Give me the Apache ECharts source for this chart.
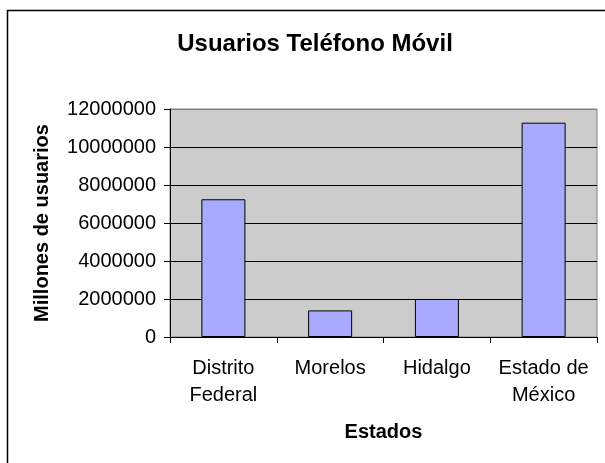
<!DOCTYPE html>
<html>
<head>
<meta charset="utf-8">
<script src="https://cdn.jsdelivr.net/npm/echarts@6/dist/echarts.min.js"></script>
<style>
  html, body { margin: 0; padding: 0; background: #fff; }
  #chart { width: 605px; height: 463px; }
</style>
</head>
<body>
<div id="chart"></div>
<script>
// datos
var estados = ["Distrito\nFederal", "Morelos", "Hidalgo", "Estado de\nMéxico"];
var usuarios = [7250000, 1400000, 2000000, 11280000];
var yMin = 0;
var yMax = 12000000;
var yPaso = 2000000;

var fuente = "'Liberation Sans', Arial, sans-serif";
var chart = echarts.init(document.getElementById("chart"));

var option = {
  animation: false,
  backgroundColor: "#fff",
  title: {
    text: "Usuarios Teléfono Móvil",
    left: 310,
    top: 27,
    textAlign: "center",
    textStyle: { fontFamily: fuente, fontSize: 24, fontWeight: "bold", color: "#000" },
  },
  // marco exterior del grafico
  graphic: [
    {
      type: "rect",
      shape: { x: 7.5, y: 10.5, width: 700, height: 600 },
      style: { fill: "none", stroke: "#000", lineWidth: 1.5 },
      silent: true,
    },
  ],
  grid: {
    left: 170,
    top: 109,
    right: 8,
    bottom: 126,
    show: true,
    backgroundColor: "#cccccc",
    borderColor: "#808080",
    borderWidth: 1,
  },
  xAxis: {
    type: "category",
    data: estados,
    name: "Estados",
    nameLocation: "middle",
    nameGap: 85,
    nameTextStyle: { fontFamily: fuente, fontSize: 20, fontWeight: "bold", color: "#000" },
    axisLine: { show: true, lineStyle: { color: "#000", width: 1 } },
    axisTick: { show: true, length: 6, lineStyle: { color: "#000" } },
    axisLabel: {
      margin: 18,
      fontFamily: fuente,
      fontSize: 20,
      lineHeight: 27,
      color: "#000",
      interval: 0,
    },
  },
  yAxis: {
    type: "value",
    min: yMin,
    max: yMax,
    interval: yPaso,
    name: "Millones de usuarios",
    nameLocation: "middle",
    nameGap: 118,
    nameTextStyle: { fontFamily: fuente, fontSize: 20, fontWeight: "bold", color: "#000" },
    axisLine: { show: true, lineStyle: { color: "#000", width: 1 } },
    axisTick: { show: true, length: 6, lineStyle: { color: "#000" } },
    axisLabel: {
      margin: 14,
      fontFamily: fuente,
      fontSize: 20,
      color: "#000",
      formatter: function (v) { return String(v); },
    },
    splitLine: {
      show: true,
      lineStyle: {
        color: ["#000", "#000", "#000", "#000", "#000", "#000", "#808080"],
        width: 1,
      },
    },
  },
  series: [
    {
      type: "bar",
      data: usuarios,
      barWidth: 44,
      itemStyle: { color: "#a8aaff", borderColor: "#000", borderWidth: 1 },
    },
  ],
};

chart.setOption(option);
</script>
</body>
</html>
